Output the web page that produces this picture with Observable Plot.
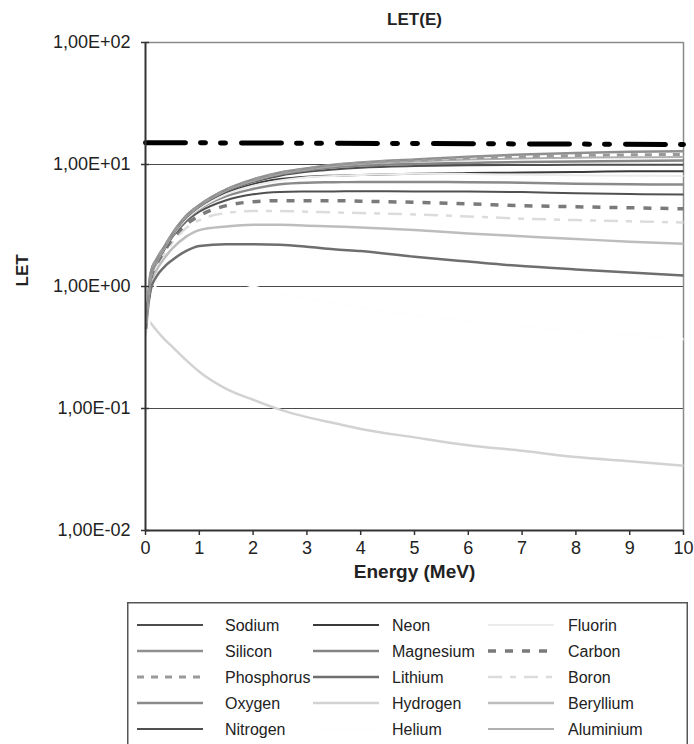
<!DOCTYPE html>
<html><head><meta charset="utf-8">
<script src="https://cdn.jsdelivr.net/npm/d3@7"></script>
<script src="https://cdn.jsdelivr.net/npm/@observablehq/plot@0.6"></script>
<style>
html,body{margin:0;padding:0;background:#fff;}
body{width:694px;height:744px;overflow:hidden;position:relative;font-family:"Liberation Sans",Arial,sans-serif;}
#chart{position:absolute;left:0;top:0;}
#legend{position:absolute;left:127px;top:602px;}
</style></head><body>
<div id="chart"></div><div id="legend"></div>
<script>
// ---------- data ----------
const energy = [0.02, 0.1, 0.2, 0.35, 0.5, 0.75, 1, 1.5, 2, 2.5, 3, 3.5, 4, 5, 6, 7, 8, 9, 10];

const hydrogen   = [0.56, 0.5, 0.44, 0.37, 0.32, 0.25, 0.2, 0.145, 0.118, 0.098, 0.085, 0.076, 0.068, 0.058, 0.05, 0.045, 0.04, 0.037, 0.034];
const helium     = [0.26, 0.7, 1.05, 1.3, 1.42, 1.42, 1.35, 1.15, 1.0, 0.88, 0.8, 0.73, 0.67, 0.58, 0.52, 0.47, 0.43, 0.4, 0.37];
const lithium    = [0.5, 0.95, 1.2, 1.45, 1.65, 1.95, 2.15, 2.22, 2.22, 2.2, 2.12, 2.02, 1.95, 1.75, 1.6, 1.47, 1.38, 1.3, 1.23];
const beryllium  = [0.4, 1.05, 1.35, 1.7, 2.05, 2.55, 2.9, 3.1, 3.2, 3.2, 3.15, 3.1, 3.05, 2.9, 2.72, 2.58, 2.45, 2.33, 2.24];
const boron      = [0.4, 1.1, 1.45, 1.85, 2.3, 3.0, 3.5, 4.0, 4.15, 4.15, 4.1, 4.05, 4.0, 3.9, 3.75, 3.6, 3.5, 3.42, 3.35];
const carbon     = [0.45, 1.15, 1.5, 1.95, 2.45, 3.2, 3.8, 4.6, 4.95, 5.05, 5.05, 5.05, 5.0, 4.9, 4.75, 4.6, 4.5, 4.42, 4.33];
const nitrogen   = [0.5, 1.2, 1.55, 2.0, 2.55, 3.4, 4.1, 5.1, 5.7, 5.95, 6.0, 6.02, 6.05, 6.0, 6.0, 5.95, 5.8, 5.72, 5.68];
const oxygen     = [0.5, 1.2, 1.55, 2.05, 2.6, 3.5, 4.3, 5.5, 6.3, 6.9, 7.1, 7.15, 7.2, 7.2, 7.15, 7.1, 6.95, 6.88, 6.85];
const fluorin    = [0.5, 1.22, 1.58, 2.05, 2.62, 3.55, 4.35, 5.7, 6.7, 7.4, 7.85, 8.05, 8.2, 8.4, 8.35, 8.25, 8.15, 8.1, 8.05];
const neon       = [0.5, 1.25, 1.6, 2.05, 2.65, 3.6, 4.4, 5.8, 6.9, 7.6, 7.95, 8.1, 8.2, 8.4, 8.5, 8.6, 8.7, 8.8, 8.8];
const sodium     = [0.5, 1.25, 1.6, 2.1, 2.65, 3.65, 4.5, 6.0, 7.2, 8.1, 8.7, 9.1, 9.4, 9.7, 9.85, 9.9, 9.95, 9.95, 9.95];
const magnesium  = [0.5, 1.28, 1.62, 2.1, 2.68, 3.7, 4.55, 6.1, 7.3, 8.3, 8.95, 9.5, 9.8, 10.1, 10.3, 10.5, 10.6, 10.7, 10.8];
const aluminium  = [0.5, 1.28, 1.63, 2.1, 2.7, 3.72, 4.6, 6.15, 7.4, 8.4, 9.1, 9.7, 10.1, 10.6, 11.0, 11.2, 11.35, 11.45, 11.5];
const phosphorus = [0.5, 1.3, 1.65, 2.1, 2.7, 3.75, 4.6, 6.2, 7.5, 8.5, 9.2, 9.85, 10.3, 10.8, 11.3, 11.6, 11.85, 12.0, 12.1];
const silicon    = [0.52, 1.32, 1.66, 2.12, 2.72, 3.78, 4.65, 6.25, 7.55, 8.6, 9.3, 9.95, 10.4, 11.0, 11.6, 12.1, 12.45, 12.7, 12.85];

const thresholdEnergy = [0, 10];
const thresholdLET = [15.1, 14.6];

const xTicks = [0, 1, 2, 3, 4, 5, 6, 7, 8, 9, 10];
const yTicks = [100, 10, 1, 0.1, 0.01];
const yTickLabels = ["1,00E+02", "1,00E+01", "1,00E+00", "1,00E-01", "1,00E-02"];
const gridValues = [10, 1, 0.1];

const seriesNames = ["Sodium","Neon","Fluorin","Silicon","Magnesium","Carbon","Phosphorus","Lithium","Boron","Oxygen","Hydrogen","Beryllium","Nitrogen","Helium","Aluminium"];
const seriesValues = {Sodium: sodium, Neon: neon, Fluorin: fluorin, Silicon: silicon, Magnesium: magnesium, Carbon: carbon,
  Phosphorus: phosphorus, Lithium: lithium, Boron: boron, Oxygen: oxygen, Hydrogen: hydrogen, Beryllium: beryllium,
  Nitrogen: nitrogen, Helium: helium, Aluminium: aluminium};

// ---------- styles ----------
const styles = {
  Sodium:     {stroke: "#4d4d4d", w: 2},
  Neon:       {stroke: "#3a3a3a", w: 2},
  Fluorin:    {stroke: "#ececec", w: 2},
  Silicon:    {stroke: "#8f8f8f", w: 2.5},
  Magnesium:  {stroke: "#858585", w: 2.5},
  Carbon:     {stroke: "#7a7a7a", w: 3.5, dash: "8,9"},
  Phosphorus: {stroke: "#9a9a9a", w: 3, dash: "7,7"},
  Lithium:    {stroke: "#6e6e6e", w: 2.5},
  Boron:      {stroke: "#dcdcdc", w: 2.5, dash: "14,8,6,8"},
  Oxygen:     {stroke: "#8a8a8a", w: 2.5},
  Hydrogen:   {stroke: "#d2d2d2", w: 2.5},
  Beryllium:  {stroke: "#bdbdbd", w: 2.5},
  Nitrogen:   {stroke: "#505050", w: 2},
  Helium:     {stroke: "#fefefe", w: 2.5},
  Aluminium:  {stroke: "#b0b0b0", w: 2}
};
const drawOrder = ["Hydrogen","Beryllium","Boron","Lithium","Carbon","Nitrogen","Oxygen","Neon","Fluorin","Sodium","Magnesium","Aluminium","Silicon","Phosphorus","Helium"];

const rows = seriesNames.flatMap(name => energy.map((e, i) => ({name, E: e, LET: seriesValues[name][i]})));
const threshold = thresholdEnergy.map((e, i) => ({E: e, LET: thresholdLET[i]}));
const labelOf = new Map(yTicks.map((t, i) => [t, yTickLabels[i]]));

const lineMarks = drawOrder.map(name => Plot.line(rows.filter(r => r.name === name), {
  x: "E", y: "LET", stroke: styles[name].stroke, strokeWidth: styles[name].w,
  strokeDasharray: styles[name].dash, curve: "monotone-x", strokeLinecap: "butt"
}));

const chart = Plot.plot({
  width: 694, height: 600,
  marginLeft: 145, marginRight: 11, marginTop: 42, marginBottom: 70,
  style: {fontFamily: "'Liberation Sans', Arial, sans-serif", background: "#fff", color: "#222"},
  x: {domain: [0, 10]},
  y: {type: "log", domain: [0.01, 100]},
  marks: [
    Plot.ruleY(gridValues, {stroke: "#4a4a4a", strokeWidth: 1.2}),
    Plot.ruleY([100], {stroke: "#8a8a8a", strokeWidth: 1.5}),
    Plot.ruleX([10], {stroke: "#8a8a8a", strokeWidth: 1.5}),
    ...lineMarks,
    Plot.line(threshold, {x: "E", y: "LET", stroke: "#000", strokeWidth: 5, strokeDasharray: "40,15,5,15,5,16"}),
    Plot.ruleX([0], {stroke: "#333", strokeWidth: 2}),
    Plot.ruleY([0.01], {stroke: "#333", strokeWidth: 2}),
    Plot.ruleY(yTicks, {x1: 0, x2: 0, insetRight: -4, stroke: "#333", strokeWidth: 1.5}),
    Plot.axisY({ticks: yTicks, tickFormat: d => labelOf.get(d), tickSize: 4, tickPadding: 11, fontSize: 18, label: null, stroke: "#333", strokeWidth: 1.5}),
    Plot.axisX({ticks: xTicks, tickSize: 5, tickPadding: 6, fontSize: 18, label: null, stroke: "#333", strokeWidth: 1.5}),
    Plot.text(["LET(E)"], {frameAnchor: "top", dy: -30, fontSize: 17, fontWeight: "bold", fill: "#222"}),
    Plot.text(["Energy (MeV)"], {frameAnchor: "bottom", dy: 47, fontSize: 19, fontWeight: "bold", fill: "#222"}),
    Plot.text(["LET"], {frameAnchor: "left", dx: -123, rotate: -90, fontSize: 17, fontWeight: "bold", fill: "#222"})
  ]
});
document.getElementById("chart").appendChild(chart);

// ---------- legend ----------
const lw = 561, lh = 146;
const legend = d3.select("#legend").append("svg").attr("width", lw).attr("height", lh)
  .style("font-family", "'Liberation Sans', Arial, sans-serif");
legend.append("rect").attr("x", 0.75).attr("y", 0.75).attr("width", lw - 1.5).attr("height", lh + 5)
  .attr("fill", "#fff").attr("stroke", "#555").attr("stroke-width", 1.5);
const colLine = [10, 186, 361], colText = [98, 265, 441], rowY = [23, 49, 75, 101, 127];
seriesNames.forEach((name, i) => {
  const c = i % 3, r = Math.floor(i / 3), s = styles[name];
  legend.append("line").attr("x1", colLine[c]).attr("x2", colLine[c] + 66)
    .attr("y1", rowY[r]).attr("y2", rowY[r])
    .attr("stroke", s.stroke).attr("stroke-width", s.w)
    .attr("stroke-dasharray", s.dash || null);
  legend.append("text").attr("x", colText[c]).attr("y", rowY[r]).attr("dy", "0.35em")
    .attr("font-size", 16).attr("fill", "#222").text(name);
});
</script>
</body></html>
